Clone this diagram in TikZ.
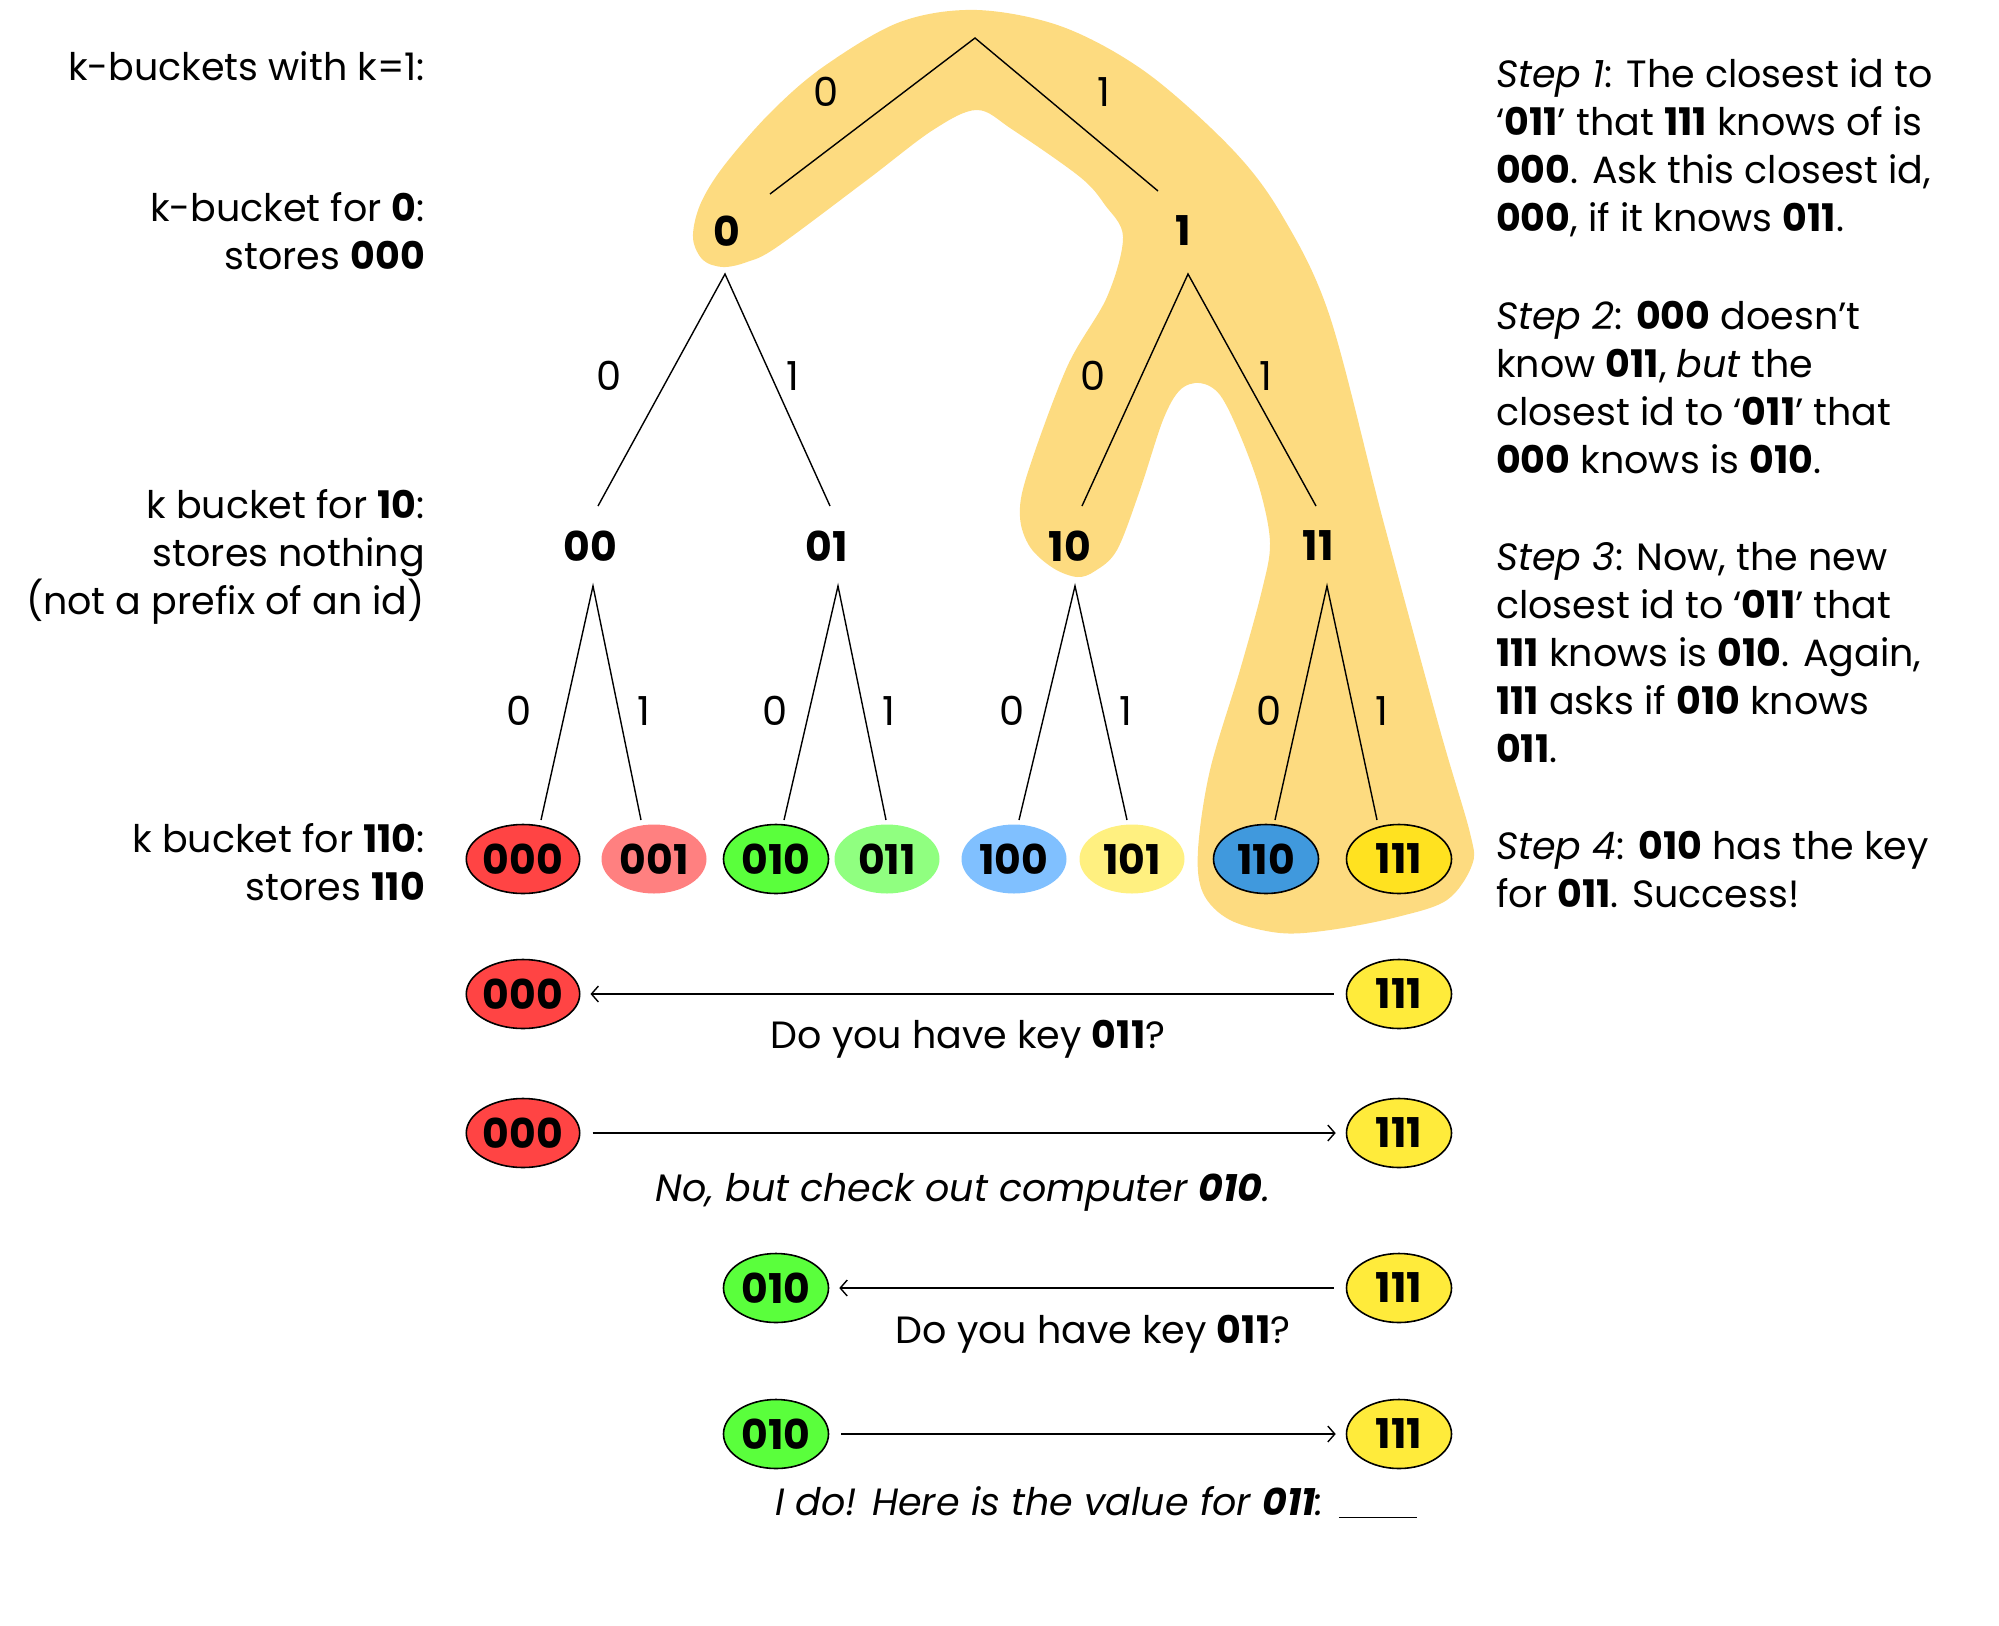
\documentclass[tikz,border=0pt]{standalone}
\usepackage{fontspec}
\setmainfont{Poppins}
\usetikzlibrary{shapes.geometric,arrows.meta}
\definecolor{hl}{RGB}{253,219,128}
\definecolor{cRed}{RGB}{255,68,68}
\definecolor{cPink}{RGB}{255,128,128}
\definecolor{cGreen}{RGB}{90,255,60}
\definecolor{cLGreen}{RGB}{144,255,128}
\definecolor{cLBlue}{RGB}{128,192,255}
\definecolor{cLYel}{RGB}{255,240,128}
\definecolor{cBlue}{RGB}{64,153,221}
\definecolor{cYel}{RGB}{255,226,32}
\definecolor{cYelB}{RGB}{255,235,59}
\begin{document}
\begin{tikzpicture}[x=1pt,y=-1pt,
  txt/.style={inner sep=0pt, font=\fontsize{38}{48}\selectfont},
  tnode/.style={inner sep=0pt, font=\fontsize{41}{46}\selectfont\bfseries},
  elbl/.style={inner sep=0pt, font=\fontsize{40}{46}\selectfont},
  leaf/.style={ellipse, minimum width=105pt, minimum height=69pt, inner sep=0pt, font=\fontsize{41}{46}\selectfont\bfseries},
  bord/.style={draw=black, line width=1.6pt},
  tedge/.style={line width=1.4pt},
  msg/.style={line width=1.4pt, -{Straight Barb[length=7pt,width=16pt]}, shorten <=12pt, shorten >=10pt}
]
\useasboundingbox (0,0) rectangle (1999,1625);

% highlight blob
\fill[hl] plot[smooth cycle, tension=0.55] coordinates {(977,10) (1063,27) (1147,73) (1233,150) (1283,217) (1330,317) (1383,520) (1440,730) (1470,833) (1472,865) (1447,900) (1397,917) (1330,930) (1280,933) (1230,920) (1203,893) (1198,850) (1210,770) (1240,670) (1262,590) (1270,543) (1260,490) (1240,435) (1220,395) (1200,383) (1180,390) (1163,420) (1140,490) (1117,550) (1095,571) (1077,577) (1053,568) (1030,547) (1020,517) (1027,475) (1067,367) (1107,297) (1123,237) (1105,205) (1080,177) (1013,130) (977,110) (933,130) (867,180) (777,247) (747,262) (723,267) (703,260) (693,238) (700,205) (723,167) (770,113) (823,67) (900,22)};

% left texts
\node[txt, anchor=east, align=right] (tk) at (425,66) {k-buckets with k=1:};
\node[txt, anchor=east, align=right] (tb0) at (425,231) {k-bucket for \textbf{0}:\\stores \textbf{000}};
\node[txt, anchor=east, align=right] (tb10) at (425,557) {k bucket for \textbf{10}:\\stores nothing\hspace*{10pt}\\(not a prefix of an id)};
\node[txt, anchor=east, align=right] (tb110) at (425,862) {k bucket for \textbf{110}:\\stores \textbf{110}};

% right texts
\node[txt, anchor=west, align=left] (s1) at (1496,148) {\textit{Step 1}: The closest id to\\‘\textbf{011}’ that \textbf{111} knows of is\\\textbf{000}. Ask this closest id,\\\textbf{000}, if it knows \textbf{011}.};
\node[txt, anchor=west, align=left] (s2) at (1496,388) {\textit{Step 2}: \textbf{000} doesn’t\\know \textbf{011}, \textit{but} the\\closest id to ‘\textbf{011}’ that\\\textbf{000} knows is \textbf{010}.};
\node[txt, anchor=west, align=left] (s3) at (1496,653) {\textit{Step 3}: Now, the new\\closest id to ‘\textbf{011}’ that\\\textbf{111} knows is \textbf{010}. Again,\\\textbf{111} asks if \textbf{010} knows\\\textbf{011}.};
\node[txt, anchor=west, align=left] (s4) at (1496,870) {\textit{Step 4}: \textbf{010} has the key\\for \textbf{011}. Success!};

% tree
\coordinate (r) at (975,38);
\node[tnode] (n0) at (727,231) {0};
\node[tnode] (n1) at (1183,231) {1};
\coordinate (e0) at (770,194);
\coordinate (e1) at (1158,191);
\draw[tedge] (e0) -- (r) -- (e1);
\node[elbl] (l0) at (826,92) {0};
\node[elbl] (l1) at (1104,92) {1};

\coordinate (n0b) at (725,274);
\coordinate (n1b) at (1188,274);
\coordinate (e00) at (598,506);
\coordinate (e01) at (830,506);
\coordinate (e10) at (1082,506);
\coordinate (e11) at (1316,506);
\draw[tedge] (e00) -- (n0b) -- (e01);
\draw[tedge] (e10) -- (n1b) -- (e11);
\node[elbl] (l00) at (609,376) {0};
\node[elbl] (l01) at (793,376) {1};
\node[elbl] (l10) at (1093,376) {0};
\node[elbl] (l11) at (1266,376) {1};

\node[tnode] (n00) at (590,546) {00};
\node[tnode] (n01) at (827,546) {01};
\node[tnode] (n10) at (1070,546) {10};
\node[tnode] (n11) at (1318,546) {11};

\coordinate (a00) at (593,586);
\coordinate (a01) at (838,586);
\coordinate (a10) at (1075,586);
\coordinate (a11) at (1327,586);
\coordinate (e000) at (541,820);
\coordinate (e001) at (641,820);
\coordinate (e010) at (784,820);
\coordinate (e011) at (886,820);
\coordinate (e100) at (1019,820);
\coordinate (e101) at (1127,820);
\coordinate (e110) at (1275,820);
\coordinate (e111) at (1377,820);
\draw[tedge] (e000) -- (a00) -- (e001);
\draw[tedge] (e010) -- (a01) -- (e011);
\draw[tedge] (e100) -- (a10) -- (e101);
\draw[tedge] (e110) -- (a11) -- (e111);
\node[elbl] (m1) at (519,711) {0};
\node[elbl] (m2) at (644,711) {1};
\node[elbl] (m3) at (775,711) {0};
\node[elbl] (m4) at (889,711) {1};
\node[elbl] (m5) at (1012,711) {0};
\node[elbl] (m6) at (1126,711) {1};
\node[elbl] (m7) at (1269,711) {0};
\node[elbl] (m8) at (1382,711) {1};

\node[leaf, bord, fill=cRed] (k000) at (523,859) {000};
\node[leaf, fill=cPink] (k001) at (654,859) {001};
\node[leaf, bord, fill=cGreen] (k010) at (776,859) {010};
\node[leaf, fill=cLGreen] (k011) at (887,859) {011};
\node[leaf, fill=cLBlue] (k100) at (1014,859) {100};
\node[leaf, fill=cLYel] (k101) at (1132,859) {101};
\node[leaf, bord, fill=cBlue] (k110) at (1266,859) {110};
\node[leaf, bord, fill=cYel] (k111) at (1399,859) {111};

% messages
\node[leaf, bord, fill=cRed] (a1) at (523,994) {000};
\node[leaf, bord, fill=cYelB] (b1) at (1399,994) {111};
\draw[msg] (b1) -- (a1);
\node[txt] (q1) at (968,1039) {Do you have key \textbf{011}?};

\node[leaf, bord, fill=cRed] (a2) at (523,1133) {000};
\node[leaf, bord, fill=cYelB] (b2) at (1399,1133) {111};
\draw[msg] (a2) -- (b2);
\node[txt] (q2) at (963,1192) {\textit{No, but check out computer \textbf{010}.}};

\node[leaf, bord, fill=cGreen] (a3) at (776,1288) {010};
\node[leaf, bord, fill=cYelB] (b3) at (1399,1288) {111};
\draw[msg] (b3) -- (a3);
\node[txt] (q3) at (1093,1334) {Do you have key \textbf{011}?};

\node[leaf, bord, fill=cGreen] (a4) at (776,1434) {010};
\node[leaf, bord, fill=cYelB] (b4) at (1399,1434) {111};
\draw[msg] (a4) -- (b4);
\node[txt] (q4) at (1096,1502) {\textit{I do! Here is the value for \textbf{011}: }\rule[-3pt]{78pt}{1.5pt}};
\end{tikzpicture}
\end{document}
